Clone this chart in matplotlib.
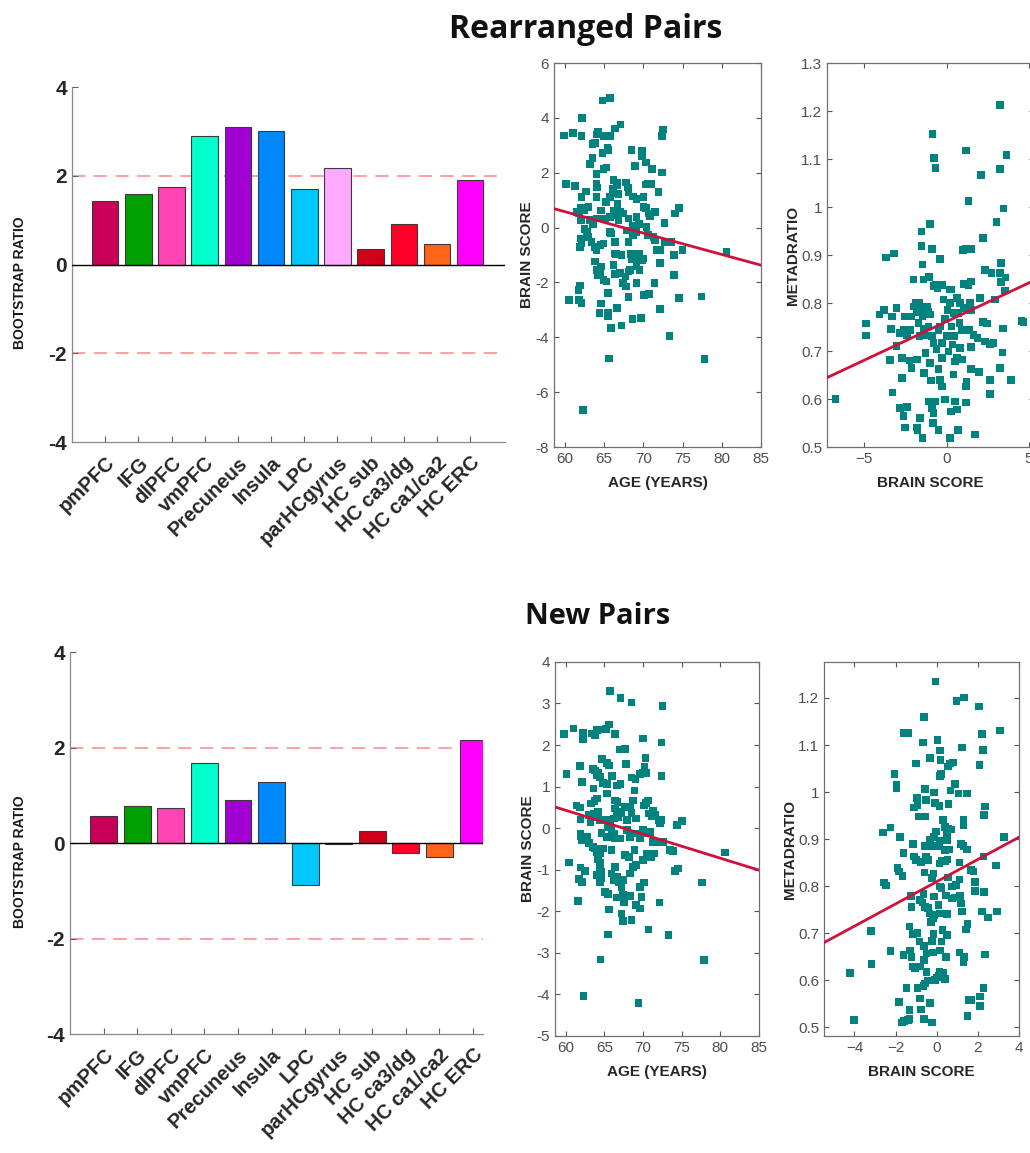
import matplotlib
matplotlib.use("Agg")
import matplotlib.pyplot as plt
import numpy as np

plt.rcParams['font.family'] = ['Liberation Sans', 'DejaVu Sans']

# regions and bootstrap ratios
regions = ['pmPFC', 'IFG', 'dlPFC', 'vmPFC', 'Precuneus', 'Insula', 'LPC',
           'parHCgyrus', 'HC sub', 'HC ca3/dg', 'HC ca1/ca2', 'HC ERC']
bsr_rearranged = [1.44, 1.60, 1.74, 2.90, 3.10, 3.00, 1.71, 2.17, 0.34, 0.91, 0.46, 1.91]
bsr_new = [0.57, 0.77, 0.74, 1.68, 0.91, 1.28, -0.87, -0.03, 0.26, -0.20, -0.30, 2.15]
region_colors = ['#C8005A', '#00A000', '#FF44B4', '#00FFCC', '#A000D2', '#0088FF',
                 '#00C8FF', '#FFAAFF', '#D00018', '#FF0028', '#FF6418', '#FF00FF']

# rearranged pairs: age vs brain score
age_r = [59.9, 61.0, 62.2, 62.1, 60.1, 61.3, 62.1, 64.8, 65.7, 66.4, 67.1, 65.0, 65.7, 64.2, 64.0,
         63.5, 63.8, 65.4, 65.5, 64.8, 68.5, 69.8, 69.8, 70.3, 72.5, 72.4, 72.4, 63.5, 63.2, 64.0,
         64.9, 65.3, 68.9, 71.1, 62.7, 64.0, 64.1, 64.0, 66.2, 66.6, 66.7, 66.1, 66.4, 66.8, 67.8,
         68.0, 68.1, 66.7, 65.2, 65.7, 68.7, 69.1, 70.0, 70.3, 70.6, 71.0, 71.9, 70.0, 70.3, 70.7,
         70.8, 71.5, 62.0, 61.5, 61.8, 62.5, 62.0, 63.0, 64.6, 65.1, 64.6, 65.7, 63.2, 63.6, 64.0,
         66.2, 67.0, 67.4, 66.6, 66.8, 68.1, 69.1, 69.4, 70.4, 68.6, 68.4, 67.9, 68.7, 69.1, 62.5,
         62.8, 63.0, 62.0, 62.1, 61.9, 63.4, 63.8, 64.0, 64.5, 64.9, 65.7, 65.9, 66.4, 66.5, 66.4,
         67.2, 68.1, 68.4, 69.4, 69.8, 70.0, 70.6, 71.3, 71.5, 71.7, 72.1, 72.7, 72.7, 73.6, 74.0,
         74.5, 73.9, 75.0, 80.6, 63.8, 64.0, 64.5, 64.2, 64.6, 64.9, 65.3, 66.2, 66.4, 67.0, 67.7,
         67.4, 67.8, 68.1, 68.5, 69.1, 69.1, 69.5, 68.3, 69.1, 70.1, 70.7, 71.4, 72.1, 72.1, 73.9,
         74.5, 68.1, 64.6, 64.4, 65.5, 65.5, 65.9, 66.6, 67.2, 68.6, 69.7, 73.3, 77.4, 77.8, 65.6,
         62.3, 60.5, 61.7, 61.9, 61.8, 62.1, 65.5]
brain_r = [3.36, 3.46, 4.00, 3.33, 1.59, 1.52, 1.11, 4.64, 4.72, 3.61, 3.76, 3.33, 3.33, 3.48, 3.40,
           3.06, 3.08, 2.92, 2.82, 2.73, 2.83, 2.80, 2.60, 2.37, 3.58, 3.33, 2.01, 2.53, 2.31, 1.95,
           2.13, 2.19, 2.25, 2.13, 1.31, 1.59, 1.47, 1.11, 1.73, 1.65, 1.53, 1.41, 1.25, 1.23, 1.65,
           1.47, 1.29, 0.87, 0.93, 1.11, 1.14, 1.05, 1.11, 1.57, 1.59, 1.59, 1.29, 0.75, 0.72, 0.51,
           0.42, 0.57, 0.72, 0.57, 0.51, 0.63, 0.27, 0.75, 0.63, 0.33, 0.33, 0.39, 0.27, 0.14, 0.33,
           0.63, 0.57, 0.51, 0.45, 0.27, 0.33, 0.39, 0.14, 0.02, 0.08, -0.10, -0.10, -0.28, -0.16, -0.04,
           -0.16, -0.34, -0.40, -0.58, -0.70, -0.52, -0.70, -0.82, -0.64, -0.58, -0.16, -0.22, -0.52, -0.96, -0.94,
           -1.00, -0.52, -0.96, -0.94, -1.18, -1.12, -0.28, -0.34, -0.46, -0.82, -0.82, 0.17, -0.52, -0.52, 0.51,
           0.71, -1.00, -0.82, -0.88, -1.24, -1.54, -1.64, -1.72, -1.42, -1.90, -1.96, -1.36, -1.69, -1.66, -1.78,
           -2.02, -2.14, -1.60, -1.16, -1.18, -1.42, -1.54, -1.54, -2.02, -2.45, -2.41, -2.02, -1.30, -2.96, -1.72,
           -2.57, -2.54, -2.77, -3.11, -3.11, -3.23, -3.65, -2.93, -3.57, -3.33, -3.29, -3.95, -2.51, -4.80, -4.77,
           -6.66, -2.65, -2.27, -2.11, -2.63, -2.75, -2.39]

# rearranged pairs: brain score vs metadratio
bs_r = [-6.76, -4.90, -4.90, -4.09, -3.79, -3.68, -3.20, -3.34, -3.38, -3.44, -3.30, -3.04, -3.04, -2.83,
        -2.73, -2.73, -2.57, -2.63, -2.43, -2.83, -2.43, -2.63, -2.53, -2.19, -2.13, -2.02, -2.27, -2.13,
        -1.98, -1.86, -1.82, -1.70, -1.72, -1.66, -1.82, -1.78, -1.82, -1.62, -1.48, -1.52, -1.52, -1.48,
        -1.40, -1.09, -1.52, -1.46, -1.42, -1.38, -1.28, -1.34, -1.21, -1.11, -1.01, -1.01, -0.87, -0.77,
        -0.69, -0.91, -0.81, -0.67, -0.57, -0.40, -0.30, -0.20, -1.11, -0.91, -0.81, -1.01, -0.97, -1.11,
        -0.91, -0.81, -0.85, -0.51, -0.71, -0.40, -0.51, -0.30, -0.61, -0.51, -0.30, -0.40, -0.30, -0.10,
        0.00, -0.10, 0.04, 0.20, 0.28, 0.16, 0.40, 0.30, 0.10, 0.20, 0.26, 0.40, 0.51, 0.61, 0.51, 0.61,
        0.67, 0.36, 0.47, 0.61, 0.71, 0.81, 0.77, 0.91, 0.81, 0.91, 1.05, 1.01, 0.97, 1.13, 1.17, 1.32,
        1.17, 1.21, 1.17, 1.32, 1.38, 1.48, 1.42, 1.46, 1.50, 1.46, 1.48, 1.62, 1.72, 1.86, 1.96, 2.02,
        2.09, 2.19, 2.31, 2.19, 2.43, 2.33, 2.63, 2.63, 2.63, 2.73, 2.83, 2.94, 3.02, 3.24, 3.28, 3.24,
        3.28, 3.24, 3.24, 3.58, 3.40, 3.38, 3.44, 3.64, 3.54, 3.91, 4.55, 4.66]
meta_r = [0.600, 0.757, 0.732, 0.776, 0.786, 0.895, 0.903, 0.772, 0.746, 0.681, 0.614, 0.790, 0.711, 0.738,
          0.685, 0.644, 0.772, 0.744, 0.734, 0.581, 0.583, 0.565, 0.541, 0.744, 0.772, 0.849, 0.680, 0.665,
          0.793, 0.800, 0.781, 0.800, 0.758, 0.731, 0.682, 0.536, 0.541, 0.560, 0.519, 0.949, 0.919, 0.880,
          0.849, 0.854, 0.786, 0.772, 0.746, 0.654, 0.696, 0.734, 0.793, 0.782, 0.776, 0.965, 1.152, 1.102,
          1.081, 0.913, 0.835, 0.838, 0.831, 0.892, 0.838, 0.807, 0.751, 0.731, 0.717, 0.675, 0.639, 0.595,
          0.581, 0.571, 0.550, 0.536, 0.595, 0.751, 0.743, 0.717, 0.704, 0.663, 0.685, 0.640, 0.626, 0.599,
          0.731, 0.767, 0.786, 0.800, 0.828, 0.828, 0.779, 0.751, 0.699, 0.519, 0.574, 0.651, 0.678, 0.685,
          0.595, 0.578, 0.536, 0.714, 0.731, 0.810, 0.779, 0.800, 0.758, 0.744, 0.706, 0.682, 0.790, 0.840,
          0.911, 0.913, 1.118, 1.012, 0.626, 0.635, 0.593, 0.838, 0.744, 0.786, 0.800, 0.845, 0.913, 0.708,
          0.663, 0.734, 0.526, 0.727, 0.656, 0.810, 1.067, 0.935, 0.869, 0.760, 0.757, 0.720, 0.715, 0.640,
          0.611, 0.863, 0.717, 0.807, 0.969, 0.665, 0.883, 0.863, 0.844, 1.079, 1.212, 0.853, 0.747, 0.697,
          0.997, 1.108, 0.826, 0.640, 0.762, 0.760]

# new pairs: age vs brain score
age_n = [59.8, 61.0, 62.2, 62.2, 60.1, 61.8, 62.1, 60.4, 61.4, 61.8, 61.9, 61.9, 62.1, 61.9, 61.7,
         62.1, 61.6, 61.9, 62.5, 62.3, 63.4, 63.8, 64.0, 64.8, 65.2, 65.6, 66.4, 65.7, 67.1, 68.5,
         72.5, 72.4, 70.0, 67.7, 67.0, 67.8, 64.7, 65.3, 65.6, 63.5, 63.8, 64.2, 64.0, 64.4, 64.8,
         65.3, 66.0, 66.6, 67.1, 68.5, 69.0, 69.6, 70.0, 70.3, 70.2, 70.4, 72.4, 63.6, 63.7, 64.0,
         63.3, 63.0, 63.2, 63.6, 63.8, 64.2, 64.4, 64.9, 65.3, 66.4, 66.7, 66.4, 66.6, 66.8, 66.2,
         65.7, 65.5, 65.9, 67.2, 67.7, 68.3, 68.5, 67.9, 68.9, 68.7, 69.1, 70.1, 70.4, 70.6, 70.7,
         71.1, 71.3, 71.6, 72.0, 72.2, 72.3, 74.4, 75.0, 62.8, 63.0, 63.5, 63.8, 64.0, 64.4, 64.8,
         64.2, 64.5, 64.6, 65.3, 66.2, 66.4, 65.9, 67.1, 67.9, 68.3, 68.5, 69.1, 69.6, 70.0, 70.4,
         70.9, 71.3, 71.7, 71.5, 71.0, 70.0, 70.5, 68.9, 67.7, 68.2, 68.7, 69.1, 68.3, 72.6, 73.5,
         73.9, 74.1, 74.5, 77.6, 80.6, 64.4, 64.6, 64.0, 64.6, 64.4, 65.9, 66.4, 66.6, 66.2, 66.8,
         67.2, 67.4, 65.1, 65.5, 66.6, 67.4, 67.5, 68.3, 69.6, 70.1, 69.8, 69.1, 69.6, 72.1, 67.2,
         67.4, 68.5, 70.7, 73.3, 65.5, 64.5, 77.9, 69.4, 65.6]
brain_n = [2.26, 2.40, 2.29, 2.13, 1.30, 1.50, 1.11, -0.83, 0.55, 0.50, 0.21, -0.13, -0.29, -0.19, -1.23,
           -1.29, -1.75, -0.95, -1.03, -4.04, 2.28, 2.24, 2.36, 2.37, 2.38, 2.49, 2.26, 3.30, 3.13, 3.02,
           2.94, 2.06, 2.16, 1.90, 1.89, 1.54, 1.67, 1.57, 1.51, 1.43, 1.39, 1.33, 1.27, 1.23, 1.09,
           1.06, 1.25, 1.03, 1.06, 1.22, 1.19, 1.31, 1.34, 1.69, 1.47, 1.33, 1.26, 0.95, 0.65, 0.71,
           0.59, 0.31, 0.14, 0.35, 0.27, 0.39, 0.19, 0.19, 0.83, 0.67, 0.63, 0.47, 0.39, 0.27, 0.23,
           0.19, 0.03, -0.05, 0.35, 0.51, 0.51, 0.37, 0.19, 0.91, 0.67, 0.23, 0.55, 0.61, 0.67, 0.35,
           0.29, 0.43, 0.31, 0.19, 0.11, 0.19, 0.07, 0.17, -0.21, -0.35, -0.45, -0.49, -0.57, -0.61, -0.49,
           -0.75, -0.83, -0.11, -0.21, -0.13, -0.25, -0.53, -0.25, -0.05, -0.21, -0.13, -0.13, -0.25, -0.05, -0.13,
           -0.09, -0.33, -0.33, -0.61, -0.69, -0.77, -0.61, -0.53, -0.65, -0.69, -0.93, -0.89, -1.09, -0.33, -0.53,
           -0.55, -1.03, -0.97, -1.31, -0.59, -0.93, -1.05, -1.13, -1.21, -1.29, -1.09, -0.93, -1.17, -1.25, -1.29,
           -1.41, -1.25, -1.53, -1.59, -1.67, -1.61, -1.77, -1.63, -1.41, -1.31, -1.65, -1.85, -1.93, -1.79, -2.05,
           -2.23, -2.21, -2.44, -2.57, -2.56, -3.16, -3.17, -4.20, -1.96]

# new pairs: brain score vs metadratio
bs_n = [-4.22, -4.03, -3.20, -3.17, -2.60, -2.24, -2.55, -2.47, -2.24, -2.06, -1.95, -1.95, -1.82, -1.79,
        -1.90, -1.82, -1.66, -1.62, -1.62, -1.70, -1.59, -1.41, -1.46, -1.33, -1.33, -1.62, -1.41, -1.33,
        -1.22, -1.25, -1.30, -1.22, -1.14, -1.06, -1.14, -1.10, -1.01, -1.02, -0.97, -1.10, -0.94, -0.89,
        -1.14, -0.94, -0.94, -0.76, -0.81, -0.84, -0.78, -0.81, -0.70, -0.65, -0.57, -0.76, -0.68, -0.62,
        -0.57, -0.52, -0.54, -0.57, -0.52, -0.60, -0.62, -0.49, -0.62, -0.65, -0.57, -0.62, -0.49, -0.45,
        -0.41, -0.36, -0.41, -0.32, -0.32, -0.24, -0.32, -0.24, -0.19, -0.16, -0.29, -0.19, -0.13, -0.24,
        -0.13, -0.16, -0.19, -0.13, -0.03, -0.13, -0.08, -0.06, 0.03, -0.08, 0.00, 0.08, 0.13, 0.16,
        0.24, 0.28, 0.13, 0.08, 0.16, 0.24, 0.13, 0.24, 0.11, 0.16, 0.13, 0.16, 0.21, 0.19, 0.16,
        0.32, 0.41, 0.44, 0.49, 0.49, 0.45, 0.54, 0.41, 0.52, 0.32, 0.41, 0.49, 0.49, 0.41, 0.57,
        0.70, 0.62, 0.57, 0.54, 0.65, 0.78, 0.68, 0.89, 0.73, 0.73, 0.89, 0.94, 0.97, 1.33, 1.06,
        1.10, 1.10, 1.18, 1.14, 1.17, 1.22, 1.30, 1.30, 1.30, 1.22, 1.10, 1.33, 1.30, 1.46, 1.46,
        1.43, 1.49, 1.49, 1.54, 1.66, 1.66, 1.79, 1.87, 1.87, 2.05, 2.08, 2.11, 2.11, 2.19, 2.24,
        2.19, 2.27, 2.31, 2.27, 2.35, 2.31, 2.35, 2.48, 2.92, 2.89, 3.08, 3.28]
meta_n = [0.615, 0.515, 0.705, 0.634, 0.914, 0.925, 0.808, 0.801, 0.662, 1.038, 1.015, 1.008, 0.554, 0.904,
          0.838, 0.831, 0.822, 0.871, 0.654, 0.510, 0.513, 0.515, 0.583, 0.517, 0.537, 1.125, 1.125, 0.714,
          0.756, 0.779, 0.663, 0.650, 0.629, 0.625, 0.890, 0.863, 0.856, 1.061, 0.988, 0.967, 0.973, 0.948,
          0.698, 0.700, 0.583, 0.538, 0.561, 0.682, 0.629, 0.771, 0.765, 0.783, 0.756, 0.851, 1.105, 1.160,
          1.006, 0.983, 0.948, 0.885, 0.863, 0.829, 0.643, 0.657, 0.673, 0.588, 0.593, 0.517, 0.618, 0.599,
          0.753, 0.742, 0.856, 0.898, 1.072, 0.510, 0.552, 0.684, 0.659, 0.698, 0.724, 0.732, 0.739, 0.817,
          0.778, 0.827, 0.885, 0.905, 0.916, 0.999, 0.977, 1.235, 1.111, 0.600, 0.606, 0.609, 0.618, 0.663,
          0.682, 0.707, 0.742, 0.760, 0.799, 0.796, 0.848, 0.854, 0.884, 0.897, 0.970, 1.034, 1.038, 1.068,
          1.088, 0.615, 0.602, 0.649, 0.696, 0.741, 0.780, 0.818, 0.854, 0.857, 0.941, 0.926, 0.912, 0.897,
          0.877, 0.921, 0.920, 0.878, 0.974, 1.054, 1.061, 1.063, 1.003, 1.017, 0.774, 0.799, 0.776, 0.802,
          1.194, 1.201, 0.997, 0.850, 0.814, 0.763, 0.779, 0.890, 1.095, 0.885, 0.930, 0.942, 0.746, 0.659,
          0.650, 0.639, 0.878, 0.997, 0.708, 0.719, 0.524, 0.558, 0.558, 0.834, 0.831, 0.809, 0.790, 1.182,
          1.058, 0.565, 0.545, 1.123, 1.089, 0.746, 0.863, 0.788, 0.583, 0.969, 0.951, 0.655, 0.733, 0.746,
          0.844, 1.131, 0.905]

# fitted lines (end points)
fit_r_age_x, fit_r_age_y = [58.6, 85.0], [0.69, -1.37]
fit_r_meta_x, fit_r_meta_y = [-7.3, 5.3], [0.644, 0.847]
fit_n_age_x, fit_n_age_y = [58.6, 85.0], [0.51, -1.01]
fit_n_meta_x, fit_n_meta_y = [-5.48, 4.0], [0.68, 0.904]

TEAL = '#00837E'
RED = '#D0103A'
GRAY = '#4D4D4D'

fig = plt.figure(figsize=(10.3, 11.53), dpi=100)


def bar_panel(rect, values, xmax, lab_x):
    ax = fig.add_axes(rect)
    x = np.arange(1, len(values) + 1)
    ax.bar(x, values, width=0.8, color=region_colors, edgecolor='#3a3a3a', linewidth=0.8, zorder=2)
    ax.axhline(0, color='black', lw=1.0, zorder=3)
    for yy in (2, -2):
        ax.axhline(yy, color='#FF9090', lw=1.2, dashes=(8, 5), zorder=1)
    ax.set_xlim(0, xmax)
    ax.set_ylim(-4, 4)
    ax.set_yticks([-4, -2, 0, 2, 4])
    ax.set_yticklabels(['-4', '-2', '0', '2', '4'], fontsize=15, fontweight='bold', color='#262626')
    ax.set_xticks(x)
    ax.set_xticklabels(regions, rotation=45, ha='right', rotation_mode='anchor',
                       fontsize=14.5, fontweight='bold', color='#262626')
    ax.tick_params(direction='in', length=4, color='#606060', width=0.8)
    ax.tick_params(axis='x', pad=8)
    for s in ('top', 'right'):
        ax.spines[s].set_visible(False)
    for s in ('left', 'bottom'):
        ax.spines[s].set_color('#8a8a8a')
        ax.spines[s].set_linewidth(0.9)
    ax.set_ylabel('BOOTSTRAP RATIO', fontsize=10, fontweight='bold', color='#1a1a1a')
    ax.yaxis.set_label_coords(lab_x, 0.45)
    return ax


def scatter_panel(rect, xs, ys, fx, fy, xlim, ylim, xt, yt, ytl, xlabel, ylabel):
    ax = fig.add_axes(rect)
    ax.scatter(xs, ys, s=30, marker='s', color=TEAL, edgecolors='none', zorder=2)
    ax.plot(fx, fy, color=RED, lw=2.0, zorder=3)
    ax.set_xlim(*xlim)
    ax.set_ylim(*ylim)
    ax.set_xticks(xt)
    ax.set_yticks(yt)
    ax.set_yticklabels(ytl)
    ax.tick_params(direction='in', length=3.5, top=True, right=True, labelsize=11,
                   labelcolor=GRAY, color='#555555', width=0.8)
    for s in ax.spines.values():
        s.set_color('#707070')
        s.set_linewidth(0.9)
    ax.set_xlabel(xlabel, fontsize=11, fontweight='bold', color='#262626', labelpad=7)
    ax.set_ylabel(ylabel, fontsize=11, fontweight='bold', color='#262626', labelpad=1)
    return ax


# top row: rearranged pairs
bar_panel([0.0699, 0.6166, 0.4204, 0.3079], bsr_rearranged, 13.05, -0.103)
scatter_panel([0.5379, 0.6123, 0.2010, 0.3330], age_r, brain_r, fit_r_age_x, fit_r_age_y,
              (58.6, 85), (-8, 6), [60, 65, 70, 75, 80, 85], list(range(-8, 7, 2)),
              [str(v) for v in range(-8, 7, 2)], 'AGE (YEARS)', 'BRAIN SCORE')
scatter_panel([0.8029, 0.6123, 0.2010, 0.3330], bs_r, meta_r, fit_r_meta_x, fit_r_meta_y,
              (-7.27, 5.3), (0.5, 1.3), [-5, 0, 5],
              [0.5, 0.6, 0.7, 0.8, 0.9, 1.0, 1.1, 1.2, 1.3],
              ['0.5', '0.6', '0.7', '0.8', '0.9', '1', '1.1', '1.2', '1.3'],
              'BRAIN SCORE', 'METADRATIO')

# bottom row: new pairs
bar_panel([0.0680, 0.1032, 0.4010, 0.3313], bsr_new, 12.3, -0.105)
scatter_panel([0.5388, 0.1015, 0.1981, 0.3244], age_n, brain_n, fit_n_age_x, fit_n_age_y,
              (58.6, 85), (-5, 4), [60, 65, 70, 75, 80, 85], list(range(-5, 5)),
              [str(v) for v in range(-5, 5)], 'AGE (YEARS)', 'BRAIN SCORE')
scatter_panel([0.8000, 0.1015, 0.1893, 0.3244], bs_n, meta_n, fit_n_meta_x, fit_n_meta_y,
              (-5.48, 4.0), (0.4815, 1.2766), [-4, -2, 0, 2, 4],
              [0.5, 0.6, 0.7, 0.8, 0.9, 1.0, 1.1, 1.2],
              ['0.5', '0.6', '0.7', '0.8', '0.9', '1', '1.1', '1.2'],
              'BRAIN SCORE', 'METADRATIO')

fig.text(0.569, 0.974, 'Rearranged Pairs', ha='center', va='center',
         fontsize=23, fontweight='bold', family=['Open Sans', 'DejaVu Sans'], color='#111111')
fig.text(0.580, 0.465, 'New Pairs', ha='center', va='center',
         fontsize=21, fontweight='bold', family=['Open Sans', 'DejaVu Sans'], color='#111111')

fig.savefig('out.png', dpi=100)
